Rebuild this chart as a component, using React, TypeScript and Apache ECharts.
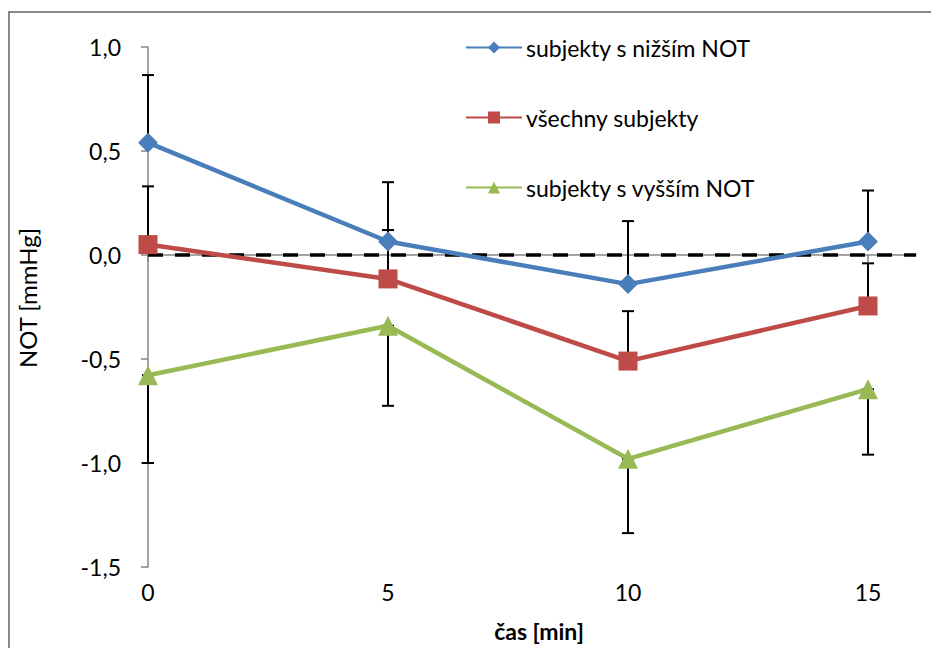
import React, { useEffect, useRef } from "react";
import * as echarts from "echarts";

const times = [0, 5, 10, 15];
const seriesNames = ["subjekty s nižším NOT", "všechny subjekty", "subjekty s vyšším NOT"];
const lowerValues = [0.54, 0.065, -0.14, 0.065];
const allValues = [0.05, -0.115, -0.51, -0.245];
const higherValues = [-0.578, -0.34, -0.98, -0.645];
// error bar ends (upper for first two series, lower for the third)
const lowerErrTop = [0.865, 0.35, 0.163, 0.31];
const allErrTop = [0.33, 0.12, -0.27, -0.04];
const higherErrBottom = [-1.0, -0.725, -1.337, -0.96];
const yTicks = [-1.5, -1.0, -0.5, 0, 0.5, 1.0];
const xTicks = [0, 5, 10, 15];

const FONT = "Lato, 'Open Sans', sans-serif";

export default function App() {
  const ref = useRef<HTMLDivElement>(null);
  useEffect(() => {
    const chart = echarts.init(ref.current!, null, { renderer: "svg" });
    const errData: number[][] = [];
    times.forEach((t, i) => {
      errData.push([t, lowerValues[i], lowerErrTop[i]]);
      errData.push([t, allValues[i], allErrTop[i]]);
      errData.push([t, higherErrBottom[i], higherValues[i]]);
    });
    const colors = ["#4A7EBB", "#BE4B48", "#98B954"];
    const symbols = ["diamond", "rect", "triangle"];
    const sizes = [20, 19, 20];
    const vals = [lowerValues, allValues, higherValues];
    chart.setOption({
      animation: false,
      graphic: [
        {
          type: "rect",
          shape: { x: 9, y: 12, width: 960, height: 700 },
          style: { fill: "none", stroke: "#888888", lineWidth: 2 },
          silent: true,
          z: -10,
        },
      ],
      legend: {
        orient: "vertical",
        left: 460,
        top: 31,
        itemWidth: 56,
        itemHeight: 15,
        itemGap: 47,
        textStyle: { fontFamily: FONT, fontSize: 23, color: "#000", padding: [0, 0, 0, -1] },
        data: seriesNames,
      },
      grid: { left: 148, top: 47, right: 15, bottom: 81 },
      xAxis: {
        type: "value",
        min: 0,
        max: 16,
        interval: 5,
        name: "čas [min]",
        nameLocation: "middle",
        nameGap: 52,
        nameTextStyle: { fontFamily: FONT, fontSize: 23, fontWeight: "bold", color: "#000", padding: [0, 0, 0, 14] },
        axisLine: { show: true, lineStyle: { color: "#868686", width: 1.5 } },
        axisTick: { show: true, length: 7, lineStyle: { color: "#868686", width: 1.5 }, customValues: xTicks },
        axisLabel: { fontFamily: FONT, fontSize: 23, color: "#000", margin: 13, customValues: xTicks },
        splitLine: { show: false },
      },
      yAxis: {
        type: "value",
        min: -1.5,
        max: 1.0,
        interval: 0.5,
        name: "NOT [mmHg]",
        nameLocation: "middle",
        nameGap: 109,
        nameRotate: 90,
        nameTextStyle: { fontFamily: FONT, fontSize: 24, color: "#000", padding: [0, 0, 0, 18] },
        axisLine: { show: true, lineStyle: { color: "#868686", width: 1.5 } },
        axisTick: { show: true, length: 7, lineStyle: { color: "#868686", width: 1.5 }, customValues: yTicks },
        axisLabel: {
          fontFamily: FONT,
          fontSize: 23,
          color: "#000",
          margin: 27,
          customValues: yTicks,
          formatter: (v: number) => v.toFixed(1).replace(".", ","),
        },
        splitLine: { show: false },
      },
      series: [
        {
          type: "line",
          name: "zero",
          data: [
            [0, 0],
            [16, 0],
          ],
          symbol: "none",
          lineStyle: { color: "#000", width: 3.5, type: [15, 12] },
          z: 1,
          silent: true,
        },
        {
          type: "custom",
          name: "err",
          data: errData,
          z: 2,
          silent: true,
          renderItem: (params: any, api: any) => {
            const x = api.value(0);
            const lo = api.coord([x, api.value(1)]);
            const hi = api.coord([x, api.value(2)]);
            const cw = 6;
            const st = { stroke: "#000", lineWidth: 2 };
            return {
              type: "group",
              children: [
                { type: "line", shape: { x1: lo[0], y1: lo[1], x2: hi[0], y2: hi[1] }, style: st },
                { type: "line", shape: { x1: lo[0] - cw, y1: lo[1], x2: lo[0] + cw, y2: lo[1] }, style: st },
                { type: "line", shape: { x1: hi[0] - cw, y1: hi[1], x2: hi[0] + cw, y2: hi[1] }, style: st },
              ],
            };
          },
        },
        ...seriesNames.map((n, k) => ({
          type: "line",
          name: n,
          data: times.map((t, i) => [t, vals[k][i]]),
          symbol: symbols[k],
          symbolSize: sizes[k],
          showAllSymbol: true,
          itemStyle: { color: colors[k] },
          lineStyle: { color: colors[k], width: 4.5 },
          z: 3 + k,
        })),
      ],
    });
    return () => chart.dispose();
  }, []);
  return (
    <div
      ref={ref}
      style={{ position: "fixed", left: 0, top: 0, width: 931, height: 648, background: "#fff" }}
    />
  );
}
